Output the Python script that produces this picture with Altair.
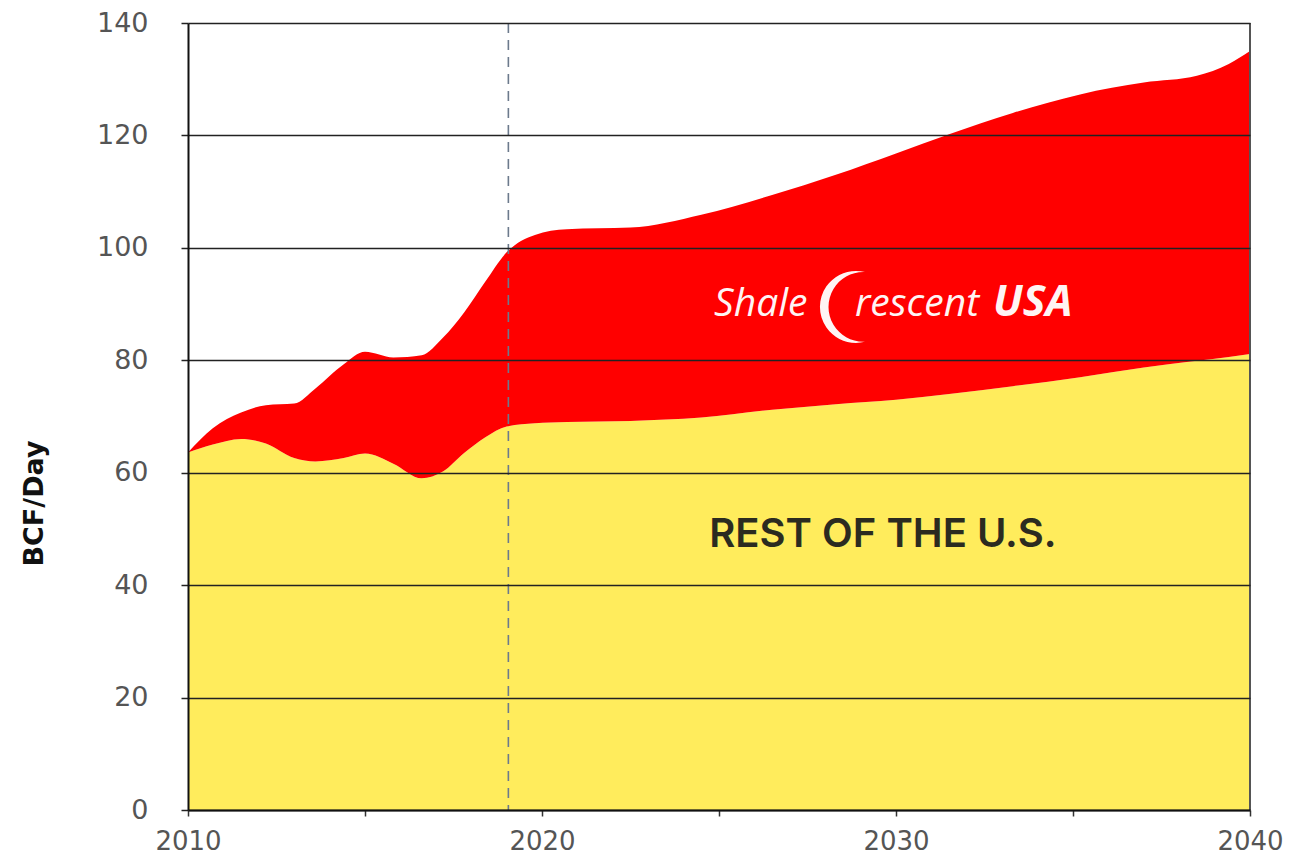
import altair as alt
import pandas as pd

# ---- data ----
years = [2010, 2010.7, 2011.5, 2012.2, 2013.0, 2013.6, 2014.4, 2015.0, 2015.8,
         2016.6, 2017.2, 2017.8, 2018.4, 2019.0, 2019.8, 2020.7, 2022.5, 2024.5,
         2026.5, 2028.3, 2030.0, 2031.5, 2033.3, 2035.2, 2037.0, 2038.5, 2039.4, 2040]
rest_of_us = [63.6, 65.0, 66.0, 65.2, 62.6, 62.0, 62.6, 63.4, 61.6,
              59.0, 60.2, 63.5, 66.3, 68.2, 68.8, 69.0, 69.2, 69.8,
              71.2, 72.2, 73.0, 74.0, 75.4, 77.0, 78.7, 79.9, 80.6, 81.1]
total = [63.6, 67.9, 70.7, 72.0, 72.3, 75.0, 79.3, 81.5, 80.5,
         80.9, 84.0, 88.5, 94.0, 99.2, 102.3, 103.3, 103.6, 105.9,
         109.4, 113.0, 116.8, 120.2, 124.0, 127.3, 129.4, 130.6, 132.7, 135.0]

x_ticks = [2010, 2015, 2020, 2025, 2030, 2035, 2040]
y_ticks = [0, 20, 40, 60, 80, 100, 120, 140]
forecast_start = [2019.05]
right_edge = [2040]

region_label = "REST OF THE U.S."
logo_shale = "Shale"
logo_rescent = "rescent"
logo_usa = "USA"

# crescent glyph of the logo (symbol shape, unit box -1..1)
CRESCENT = ("M 0.25 -0.968 A 1 1 0 1 0 0.25 0.968 "
            "A 0.969 0.969 0 1 1 0.25 -0.968 Z")

df = pd.DataFrame({"year": years, "rest": rest_of_us, "total": total})

x_scale = alt.Scale(domain=[2010, 2040], nice=False, zero=False)
y_scale = alt.Scale(domain=[0, 140], nice=False)

x_axis = alt.Axis(values=x_ticks,
                  labelExpr="datum.value % 10 === 0 ? '' + datum.value : ''",
                  grid=False, domainColor="#111", domainWidth=2,
                  tickColor="#333", tickSize=6, tickWidth=1.5,
                  labelFont="DejaVu Sans", labelFontSize=26, labelColor="#555",
                  labelPadding=12, title=None, zindex=1,
                  labelFlush=False, labelOverlap=False)

y_axis = alt.Axis(values=y_ticks, grid=True, gridColor="#222", gridWidth=1.5,
                  domainColor="#111", domainWidth=2, tickColor="#222",
                  tickSize=7, tickWidth=1.5, labelPadding=33,
                  labelFont="DejaVu Sans", labelFontSize=27, labelColor="#555",
                  title="BCF/Day", titleFont="DejaVu Sans", titleFontSize=27,
                  titleFontWeight="bold", titleColor="#111",
                  titleX=-140, titleY=480, titleAngle=-90, zindex=1)

base = alt.Chart(df)

yellow = base.mark_area(color="#FFEC5C", interpolate="monotone").encode(
    x=alt.X("year:Q", scale=x_scale, axis=x_axis),
    y=alt.Y("rest:Q", scale=y_scale, axis=y_axis),
)

red = base.mark_area(color="#FF0000", interpolate="monotone").encode(
    x=alt.X("year:Q", scale=x_scale),
    y=alt.Y("total:Q", scale=y_scale),
    y2="rest:Q",
)

dashed = alt.Chart(pd.DataFrame({"year": forecast_start})).mark_rule(
    color="#6c7a8c", strokeDash=[10, 7], strokeWidth=1.6
).encode(x=alt.X("year:Q", scale=x_scale))

right = alt.Chart(pd.DataFrame({"year": right_edge})).mark_rule(
    color="#555", strokeWidth=2
).encode(x=alt.X("year:Q", scale=x_scale))


def txt(text, x, y, **kw):
    return alt.Chart(pd.DataFrame({"t": [text], "x": [x], "y": [y]})).mark_text(**kw).encode(
        x=alt.X("x:Q", scale=x_scale), y=alt.Y("y:Q", scale=y_scale), text="t:N")


t_region = txt(region_label, 2029.63, 46.8, font="Inter", fontSize=40,
               fontWeight=600, color="#2b2b20", align="center", baseline="alphabetic")
t_shale = txt(logo_shale, 2024.86, 87.9, font="Open Sans", fontSize=39,
              fontStyle="italic", color="#fff4f4", align="left", baseline="alphabetic")
t_rescent = txt(logo_rescent, 2028.84, 87.9, font="Open Sans", fontSize=39,
                fontStyle="italic", color="#fff4f4", align="left", baseline="alphabetic")
t_usa = txt(logo_usa, 2032.74, 87.9, font="Open Sans", fontSize=43,
            fontStyle="italic", fontWeight="bold", color="#fff4f4", align="left",
            baseline="alphabetic")

crescent = alt.Chart(pd.DataFrame({"x": [2028.87], "y": [89.5]})).mark_point(
    shape=CRESCENT, filled=True, color="#fff4f4", size=5184, opacity=1, strokeWidth=0
).encode(x=alt.X("x:Q", scale=x_scale), y=alt.Y("y:Q", scale=y_scale))

chart = alt.layer(yellow, red, dashed, right, t_region, t_shale, crescent,
                  t_rescent, t_usa).properties(
    width=1062, height=787,
    autosize=alt.AutoSizeParams(type="none"),
    padding={"left": 180, "top": 15, "right": 33, "bottom": 52},
    background="white",
).configure_view(stroke=None)

chart.save("out.html", embed_options={"renderer": "svg", "actions": False})
